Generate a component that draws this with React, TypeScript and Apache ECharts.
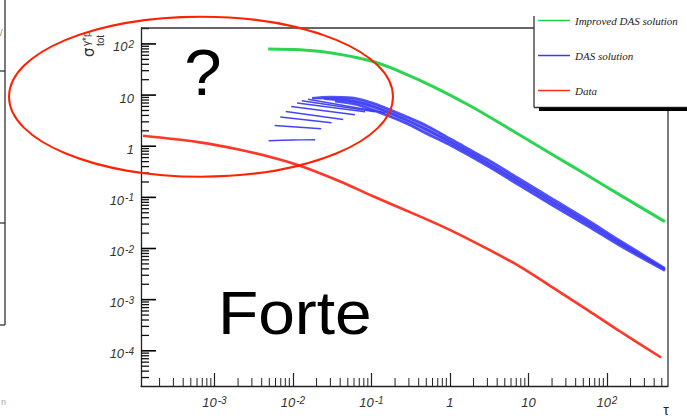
import React, { useEffect, useRef } from 'react';
import * as echarts from 'echarts';

// Axis limits (log scales)
const X_MIN = 1.16e-4;
const X_MAX = 600;
const Y_MIN = 2.05e-5;
const Y_MAX = 205;

const SERIES_NAMES = ['Improved DAS solution', 'DAS solution', 'Data'];
const GREEN = '#22d24a';
const BLUE = '#3a3af5';
const RED = '#ff2b1c';

// Improved DAS solution [tau, sigma]
const improvedDas: number[][] = [
  [4.84e-3, 80], [0.0123, 76.7], [0.0326, 66], [0.105, 45.3], [0.231, 28.9],
  [0.612, 14.7], [1.8, 6.18], [6.3, 2.01], [20.4, 0.682], [55.6, 0.273],
  [146, 0.112], [548, 0.0335],
];

// DAS solution: fan of low-tau curves
const dasFan1: number[][] = [[4.9e-3, 1.28], [0.0097, 1.32], [0.0192, 1.34]];
const dasFan2: number[][] = [[5.85e-3, 2.55], [0.0229, 2.2]];
const dasFan3: number[][] = [[6.9e-3, 3.72], [0.0311, 2.88]];
const dasFan4: number[][] = [[8.1e-3, 4.78], [0.0437, 3.34]];
const dasFan5: number[][] = [[9.5e-3, 6.0], [0.0616, 4.12]];
const dasFan6: number[][] = [[0.0113, 7.0], [0.083, 4.72]];
const dasFan7: number[][] = [[0.013, 7.74], [0.111, 4.72]];
const dasFan8: number[][] = [[0.0155, 8.28], [0.149, 4.51]];

// DAS solution: merged band (upper edge, middle, lower edge)
const dasBandTop: number[][] = [
  [0.0175, 8.66], [0.0296, 9.14], [0.0565, 8.86], [0.101, 7.07], [0.149, 5.65],
  [0.267, 3.89], [0.509, 2.51], [1.09, 1.31], [2.96, 0.557], [7.8, 0.227],
  [20.5, 0.0922], [55.6, 0.0367], [146, 0.0143], [548, 0.0041],
];
const dasBandMid: number[][] = [
  [0.025, 8.6], [0.0565, 7.7], [0.101, 6.1], [0.267, 3.35], [0.509, 2.1],
  [1.09, 1.13], [2.96, 0.48], [7.8, 0.196], [20.5, 0.08], [55.6, 0.032],
  [146, 0.0128], [548, 0.0039],
];
const dasBandBottom: number[][] = [
  [0.0343, 7.57], [0.0616, 6.61], [0.101, 5.16], [0.267, 2.88], [0.509, 1.75],
  [1.09, 0.978], [2.96, 0.416], [7.8, 0.169], [20.5, 0.0689], [55.6, 0.028],
  [146, 0.0114], [548, 0.0037],
];

// Data [tau, sigma]
const dataCurve: number[][] = [
  [1.23e-4, 1.6], [6.5e-4, 1.19], [2.1e-3, 0.855], [5.6e-3, 0.596], [0.0123, 0.416],
  [0.04, 0.205], [0.105, 0.105], [0.38, 0.045], [1.09, 0.0217], [2.96, 0.00995],
  [7.8, 0.00443], [20.5, 0.00172], [55.6, 6.4e-4], [146, 2.41e-4], [490, 7.4e-5],
];

// ROOT-style tick positions: decades (major) and 2..9 x 10^k (minor)
const MAJOR_Y: number[] = [];
const MINOR_X: number[] = [];
for (let k = -4; k <= 2; k++) {
  for (let m = 2; m <= 9; m++) {
    const v = m * Math.pow(10, k);
    if (v > X_MIN && v < X_MAX) MINOR_X.push(v);
  }
}
const MINOR_Y: number[] = [];
for (let k = -5; k <= 2; k++) {
  const d = Math.pow(10, k);
  if (d > Y_MIN && d < Y_MAX) MAJOR_Y.push(d);
  for (let m = 2; m <= 9; m++) {
    const v = m * d;
    if (v > Y_MIN && v < Y_MAX) MINOR_Y.push(v);
  }
}

const labelFmt = (v: number) => {
  const e = Math.round(Math.log10(v));
  if (e === 0) return '{b|1}';
  if (e === 1) return '{b|10}';
  return '{b|10}{sup|' + e + '}';
};

const labelRich = {
  b: {
    fontSize: 13, lineHeight: 13, fontStyle: 'italic', fontFamily: 'Liberation Sans',
    color: '#333', padding: [6, 0, 0, 0],
  },
  sup: {
    fontSize: 10, lineHeight: 10, fontStyle: 'italic', fontFamily: 'Liberation Sans',
    color: '#333', verticalAlign: 'top', padding: [2, 0, 0, 1],
  },
};

const line = (name: string, data: number[][], color: string, width: number, opacity = 0.95) => ({
  type: 'line',
  name,
  data,
  color,
  symbol: 'none',
  showSymbol: false,
  smooth: 0.35,
  silent: true,
  lineStyle: { color, width, opacity },
  z: 3,
});

// tick marks on the left axis, drawn through the axis scales
const yTickSeries = (name: string, values: number[], len: number, width: number, color: string) => ({
  type: 'custom', name, silent: true, clip: false, z: 8,
  data: values.map((v) => [X_MIN, v]),
  encode: { x: 0, y: 1 },
  renderItem: (_p: any, api: any) => {
    const c = api.coord([X_MIN, api.value(1)]);
    return {
      type: 'rect',
      shape: { x: c[0], y: c[1] - width / 2, width: len, height: width },
      style: { fill: color },
    };
  },
});

export default function App() {
  const ref = useRef<HTMLDivElement>(null);
  useEffect(() => {
    if (!ref.current) return;
    const chart = echarts.init(ref.current, undefined, { renderer: 'svg' });
    const txt = (x: number, y: number, text: string, extra: any = {}, props: any = {}) => ({
      type: 'text', x, y, z: 20, silent: true, ...props,
      style: {
        text, fill: '#000', fontFamily: 'Liberation Sans', fontSize: 12,
        align: 'left', verticalAlign: 'middle', textAlign: 'left', textVerticalAlign: 'middle',
        ...extra,
      },
    });
    const seg = (x1: number, y1: number, x2: number, y2: number, w = 1.3, c = '#333') => ({
      type: 'line', silent: true, z: 15,
      shape: { x1, y1, x2, y2 },
      style: { stroke: c, lineWidth: w },
    });
    const option: any = {
      animation: false,
      backgroundColor: '#fff',
      grid: { left: 141, right: 19, top: 28, bottom: 32 },
      legend: {
        data: SERIES_NAMES,
        orient: 'vertical',
        left: 538,
        top: 15,
        padding: 0,
        itemWidth: 32,
        itemHeight: 1.5,
        itemGap: 24,
        icon: 'rect',
        selectedMode: false,
        textStyle: {
          fontFamily: 'Liberation Serif', fontStyle: 'italic', fontSize: 11, color: '#222',
        },
      },
      xAxis: {
        type: 'log',
        logBase: 10,
        min: X_MIN,
        max: X_MAX,
        axisLine: { show: true, lineStyle: { color: '#222', width: 1.3 } },
        axisTick: { show: true, inside: true, length: 13, lineStyle: { color: '#222', width: 1.2 } },
        splitLine: { show: false },
        axisLabel: {
          formatter: labelFmt, rich: labelRich, margin: 7,
          showMinLabel: false, showMaxLabel: false,
        },
      },
      yAxis: {
        type: 'log',
        logBase: 10,
        min: Y_MIN,
        max: Y_MAX,
        axisLine: { show: true, onZero: false, lineStyle: { color: '#222', width: 1.3 } },
        axisTick: { show: false },
        splitLine: { show: false },
        axisLabel: {
          formatter: labelFmt, rich: labelRich, margin: 7,
          showMinLabel: false, showMaxLabel: false,
        },
      },
      series: [
        line(SERIES_NAMES[0], improvedDas, GREEN, 3),
        // filled body of the DAS band (between its upper and lower edges)
        {
          type: 'custom', name: 'dasBandFill', silent: true, z: 2,
          data: [[dasBandTop[0][0], dasBandTop[0][1]]],
          encode: { x: 0, y: 1 },
          renderItem: (_p: any, api: any) => {
            const pts = dasBandTop.map((d) => api.coord(d))
              .concat(dasBandBottom.slice().reverse().map((d) => api.coord(d)));
            return {
              type: 'polygon',
              shape: { points: pts, smooth: 0.3 },
              style: { fill: BLUE, opacity: 0.6 },
            };
          },
        },
        line(SERIES_NAMES[1], dasFan1, BLUE, 1.4),
        line(SERIES_NAMES[1], dasFan2, BLUE, 1.4),
        line(SERIES_NAMES[1], dasFan3, BLUE, 1.4),
        line(SERIES_NAMES[1], dasFan4, BLUE, 1.4),
        line(SERIES_NAMES[1], dasFan5, BLUE, 1.4),
        line(SERIES_NAMES[1], dasFan6, BLUE, 1.4),
        line(SERIES_NAMES[1], dasFan7, BLUE, 1.4),
        line(SERIES_NAMES[1], dasFan8, BLUE, 1.4),
        line(SERIES_NAMES[1], dasBandTop, BLUE, 2.6, 0.85),
        line(SERIES_NAMES[1], dasBandMid, BLUE, 2.6, 0.85),
        line(SERIES_NAMES[1], dasBandBottom, BLUE, 2.6, 0.85),
        line(SERIES_NAMES[2], dataCurve, RED, 2.6),
        {
          type: 'custom', name: 'xminor', silent: true, clip: false, z: 5,
          data: MINOR_X.map((v) => [v, Y_MIN]),
          encode: { x: 0, y: 1 },
          renderItem: (_p: any, api: any) => {
            const c = api.coord([api.value(0), Y_MIN]);
            return {
              type: 'line',
              shape: { x1: c[0], y1: c[1], x2: c[0], y2: c[1] - 8 },
              style: { stroke: '#222', lineWidth: 1 },
            };
          },
        },
        yTickSeries('ymajor', MAJOR_Y, 15, 1.6, '#000'),
        yTickSeries('yminor', MINOR_Y, 8, 1.3, '#111'),
      ],
      graphic: [
        // plot frame (top and right)
        seg(141, 28, 534, 28),
        seg(668, 110, 668, 386),
        // legend box
        seg(534, 16, 534, 107.5),
        seg(534, 107.5, 687, 107.5),
        { type: 'rect', silent: true, z: 15, shape: { x: 539, y: 107.5, width: 148, height: 3.5 }, style: { fill: '#000' } },
        // neighbouring frame at far left
        seg(5, 0, 5, 325),
        seg(0, 71, 5, 71),
        seg(0, 223, 5, 223),
        seg(0, 325, 5, 325),
        txt(0, 33, '/', { fontSize: 9, fill: '#777' }),
        txt(1, 402, 'n', { fontSize: 9, fill: '#aaa' }),
        // annotation ellipse
        {
          type: 'ellipse', silent: true, z: 30,
          shape: { cx: 201, cy: 96.7, rx: 192, ry: 80 },
          style: { fill: 'none', stroke: '#ff2200', lineWidth: 2 },
        },
        txt(203, 73.5, '?', { fontSize: 64, align: 'center', textAlign: 'center' }, { scaleX: 1.05 }),
        txt(218, 313, 'Forte', { fontSize: 61 }, { scaleX: 1.08 }),
        // x axis title
        txt(666, 410, 'τ', { fontSize: 14, align: 'center', textAlign: 'center', fill: '#222' }),
        // y axis title (rotated)
        {
          type: 'group', x: 96, y: 57, rotation: Math.PI / 2, z: 20, silent: true,
          children: [
            { type: 'text', x: 0, y: 0, style: { text: 'σ', fontSize: 15, fontFamily: 'DejaVu Sans', fill: '#333', align: 'left', verticalAlign: 'bottom', textAlign: 'left', textVerticalAlign: 'bottom' } },
            { type: 'text', x: 11, y: -5, style: { text: 'γ*p', fontSize: 10, fontFamily: 'Liberation Sans', fill: '#333', align: 'left', verticalAlign: 'bottom', textAlign: 'left', textVerticalAlign: 'bottom' } },
            { type: 'text', x: 11, y: -1, style: { text: 'tot', fontSize: 10, fontFamily: 'Liberation Sans', fill: '#333', align: 'left', verticalAlign: 'top', textAlign: 'left', textVerticalAlign: 'top' } },
          ],
        },
      ],
    };
    chart.setOption(option);
    return () => chart.dispose();
  }, []);
  return (
    <div
      ref={ref}
      style={{ position: 'fixed', left: 0, top: 0, width: 687, height: 418, background: '#fff' }}
    />
  );
}
